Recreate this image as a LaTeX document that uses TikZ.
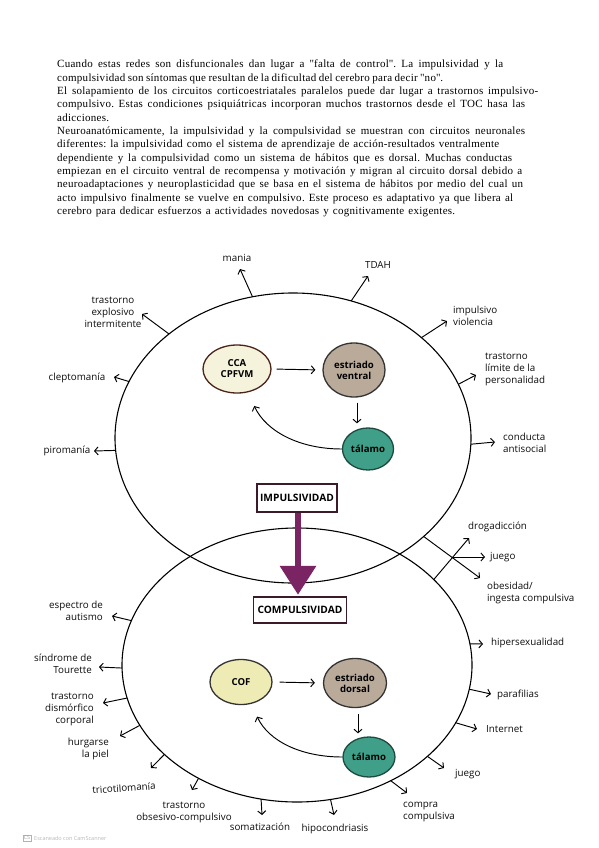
\documentclass[tikz,border=0pt]{standalone}
\usepackage{fontspec}
\setmainfont[LetterSpace=2.5]{Liberation Serif}
\newfontfamily\lab{Open Sans}
\usetikzlibrary{shapes.geometric,arrows.meta,calc}
\definecolor{ccaF}{HTML}{F6F3DD}
\definecolor{cofF}{HTML}{EFEBB5}
\definecolor{estF}{HTML}{B9AA9A}
\definecolor{talF}{HTML}{3F9F88}
\definecolor{talD}{HTML}{1E4A40}
\definecolor{brD}{HTML}{4A2418}
\definecolor{purp}{HTML}{7B2463}
\definecolor{boxD}{HTML}{3D1A2A}
\newcommand{\qq}{\textquotedbl}
\frenchspacing
\begin{document}
\begin{tikzpicture}[x=1pt,y=-1pt,
  arr/.style={-{Straight Barb[length=3.5pt,width=8pt]}, line width=0.95pt},
  lbl/.style={font=\lab\fontsize{9.8}{12}\selectfont, inner sep=0pt, text=black!95},
  big/.style={ellipse, draw, line width=1.1pt, inner sep=0pt, outer sep=0pt},
  sn/.style={ellipse, draw, line width=1.3pt, inner sep=0pt, align=center,
     font=\lab\bfseries\fontsize{9.6}{11}\selectfont},
  bx/.style={draw=boxD, line width=1.4pt, fill=white, inner sep=0pt,
     font=\lab\bfseries\fontsize{10.2}{12}\selectfont},
  txt/.style={anchor=base west, inner sep=0pt, font=\fontsize{11}{12}\selectfont}]
\useasboundingbox (0,0) rectangle (599,848);
\fill[white] (0,0) rectangle (599,848);

% ---- paragraph text ----
\node[txt] (t1) at (57,68) {\makebox[446pt][s]{Cuando estas redes son disfuncionales dan lugar a \qq falta de control\qq. La impulsividad y la}};
\node[txt] (t2) at (57,81.3) {\makebox[386pt][s]{compulsividad son síntomas que resultan de la dificultad del cerebro para decir \qq no\qq.}};
\node[txt] (t3) at (57,94.6) {\makebox[481pt][s]{El solapamiento de los circuitos corticoestriatales paralelos puede dar lugar a trastornos impulsivo-}};
\node[txt] (t4) at (57,107.9) {\makebox[468pt][s]{compulsivo. Estas condiciones psiquiátricas incorporan muchos trastornos desde el TOC hasa las}};
\node[txt] (t5) at (57,121.2) {adicciones.};
\node[txt] (t6) at (57,134.5) {\makebox[468pt][s]{Neuroanatómicamente, la impulsividad y la compulsividad se muestran con circuitos neuronales}};
\node[txt] (t7) at (57,147.8) {\makebox[442pt][s]{diferentes: la impulsividad como el sistema de aprendizaje de acción-resultados ventralmente}};
\node[txt] (t8) at (57,161.1) {\makebox[455pt][s]{dependiente y la compulsividad como un sistema de hábitos que es dorsal. Muchas conductas}};
\node[txt] (t9) at (57,174.4) {\makebox[465pt][s]{empiezan en el circuito ventral de recompensa y motivación y migran al circuito dorsal debido a}};
\node[txt] (t10) at (57,187.7) {\makebox[466pt][s]{neuroadaptaciones y neuroplasticidad que se basa en el sistema de hábitos por medio del cual un}};
\node[txt] (t11) at (57,201) {\makebox[456pt][s]{acto impulsivo finalmente se vuelve en compulsivo. Este proceso es adaptativo ya que libera al}};
\node[txt] (t12) at (57,214.3) {\makebox[398pt][s]{cerebro para dedicar esfuerzos a actividades novedosas y cognitivamente exigentes.}};

% ---- big ellipses ----
\node[big, minimum width=356pt, minimum height=290pt] (U) at (293,438) {};
\node[big, minimum width=350pt, minimum height=274pt] (L) at (297,665) {};

% ---- upper circuit ----
\node[sn, fill=ccaF, draw=brD, minimum width=68pt, minimum height=48pt] (C1) at (237,369) {CCA\\CPFVM};
\node[sn, fill=estF, draw=black!80, minimum width=62pt, minimum height=54pt] (E1) at (354,370) {estriado\\ventral};
\node[sn, fill=talF, draw=talD, minimum width=51pt, minimum height=42pt] (T1) at (368,449) {tálamo};
\draw[arr, shorten <=5pt, shorten >=7pt] (C1.east) -- (E1.west);
\draw[arr, shorten <=5pt, shorten >=4pt] (E1.south -| 357,0) -- (T1.north -| 357,0);
\draw[arr, shorten >=15pt] (T1.west) to[out=180, in=-65] (C1.-65);

% ---- lower circuit ----
\node[sn, fill=cofF, draw=black!80, minimum width=62pt, minimum height=45pt] (C2) at (241,682) {COF};
\node[sn, fill=estF, draw=black!80, minimum width=63pt, minimum height=49pt] (E2) at (355,683) {estriado\\dorsal};
\node[sn, fill=talF, draw=talD, minimum width=52pt, minimum height=40pt] (T2) at (369,757) {tálamo};
\draw[arr, shorten <=7pt, shorten >=8pt] (C2.east) -- (E2.west);
\draw[arr, shorten <=6pt, shorten >=3pt] (E2.south -| 358,0) -- (T2.north -| 358,0);
\draw[arr, shorten >=14pt] (T2.west) to[out=180, in=-65] (C2.-65);

% ---- impulsividad -> compulsividad ----
\node[bx, minimum width=80pt, minimum height=28pt] (IMP) at (297,498) {IMPULSIVIDAD};
\node[bx, minimum width=93pt, minimum height=26pt] (COMP) at (300,610) {COMPULSIVIDAD};
\draw[purp, line width=6.5pt, -{Triangle[length=29pt,width=35pt]}, shorten >=1.5pt] (IMP.south -| 298,0) -- (COMP.north -| 298,0);

% ---- labels upper ----
\node[lbl] (lMania) at (237,258) {mania};
\node[lbl] (lTDAH) at (378,265) {TDAH};
\node[lbl, align=center] (lExpl) at (113,312) {trastorno\\explosivo\\intermitente};
\node[lbl] (lClep) at (77,378) {cleptomanía};
\node[lbl] (lPiro) at (67,451) {piromanía};
\node[lbl, anchor=west, align=left] (lImp) at (453,316) {impulsivo\\violencia};
\node[lbl, anchor=west, align=left] (lLim) at (485,369) {trastorno\\límite de la\\personalidad};
\node[lbl, anchor=west, align=left] (lCond) at (503,443) {conducta\\antisocial};
\coordinate (tMania) at (240,269);
\coordinate (tTDAH) at (368,276);
\coordinate (tExpl) at (142,314);
\coordinate (tClep) at (114,377);
\coordinate (tPiro) at (94,451);
\coordinate (tImp) at (447,321);
\coordinate (tLim) at (476,375);
\coordinate (tCond) at (495,442);
\draw[arr] (U.106) -- (tMania);
\draw[arr] (U.67) -- (tTDAH);
\draw[arr] (U.140) -- (tExpl);
\draw[arr] (U.161) -- (tClep);
\draw[arr] (U.184) -- (tPiro);
\draw[arr] (U.38) -- (tImp);
\draw[arr] (U.18) -- (tLim);
\draw[arr] (U.358) -- (tCond);

% ---- lens labels ----
\node[lbl, anchor=west] (lDrog) at (468,527) {drogadicción};
\node[lbl, anchor=west] (lJue1) at (490,557) {juego};
\node[lbl, anchor=west, align=left] (lObes) at (487,593) {obesidad/\\ingesta compulsiva};
\coordinate (tDrog) at (469,538);
\coordinate (tObes) at (480,578);
\coordinate (tJue1) at (485,557);
\coordinate (X) at (453,557);
\draw[arr] (U.323) -- (tObes);
\draw[arr] (L.32) -- (tDrog);
\draw[arr] (X) -- (tJue1);

% ---- labels lower ----
\node[lbl, anchor=east, align=right] (lAut) at (103,611) {espectro de\\autismo};
\node[lbl, anchor=east, align=right] (lTour) at (92,664) {síndrome de\\Tourette};
\node[lbl, anchor=east, align=right] (lDism) at (94,709) {trastorno\\dismórfico\\corporal};
\node[lbl, anchor=east, align=right] (lPiel) at (109,749) {hurgarse\\la piel};
\node[lbl, rotate=4] (lTric) at (124,788) {tricotilomanía};
\node[lbl, anchor=north, align=center] (lTOC) at (184,802) {trastorno\\obsesivo-compulsivo};
\node[lbl] (lSom) at (260,827) {somatización};
\node[lbl] (lHip) at (335,829) {hipocondriasis};
\node[lbl, anchor=west, align=left] (lComp) at (403,812) {compra\\compulsiva};
\node[lbl, anchor=west] (lJue2) at (455,774) {juego};
\node[lbl, anchor=west] (lInt) at (486,729) {Internet};
\node[lbl, anchor=west] (lPara) at (497,695) {parafilias};
\node[lbl, anchor=west] (lHiper) at (491,643) {hipersexualidad};
\coordinate (tAut) at (112,616);
\coordinate (tTour) at (99,667);
\coordinate (tDism) at (103,703);
\coordinate (tPiel) at (120,736);
\coordinate (tTric) at (151,768);
\coordinate (tTOC) at (192,790);
\coordinate (tSom) at (262,815);
\coordinate (tHip) at (334,815);
\coordinate (tComp) at (407,793);
\coordinate (tJue2) at (444,768);
\coordinate (tInt) at (477,729);
\coordinate (tPara) at (491,694);
\coordinate (tHiper) at (483,644);
\draw[arr] (L.165.6) -- (tAut);
\draw[arr] (L.181) -- (tTour);
\draw[arr] (L.191) -- (tDism);
\draw[arr] (L.201) -- (tPiel);
\draw[arr] (L.214) -- (tTric);
\draw[arr] (L.229) -- (tTOC);
\draw[arr] (L.255.5) -- (tSom);
\draw[arr] (L.284) -- (tHip);
\draw[arr] (L.309) -- (tComp);
\draw[arr] (L.325) -- (tJue2);
\draw[arr] (L.340) -- (tInt);
\draw[arr] (L.352) -- (tPara);
\draw[arr] (L.7) -- (tHiper);

% ---- scanner watermark ----
\node[draw=gray!60, line width=0.4pt, inner sep=1pt, text=gray!70, font=\lab\fontsize{5.5}{6}\selectfont] (wmA) at (27,838) {CS};
\node[anchor=west, inner sep=0pt, text=gray!55, font=\lab\fontsize{5.5}{6}\selectfont] (wmB) at (34,838) {Escaneado con CamScanner};
\end{tikzpicture}
\end{document}
